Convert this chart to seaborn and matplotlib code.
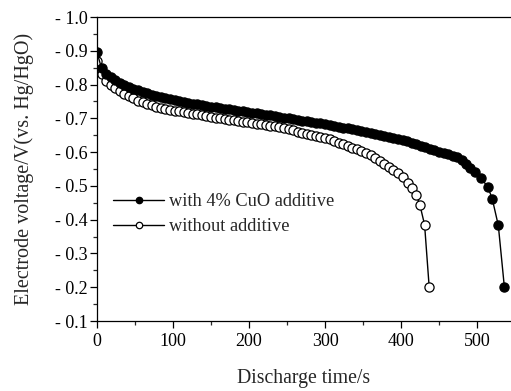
import matplotlib
matplotlib.use("Agg")
import matplotlib.pyplot as plt
from matplotlib.ticker import MultipleLocator, FuncFormatter
import seaborn as sns
import pandas as pd

# Discharge curves: time (s) and electrode potential (V vs. Hg/HgO)
time_cuo = [0, 6, 12, 18, 24, 30, 36, 42, 48, 54, 60, 66, 72, 78, 84, 90, 96,
            102, 108, 114, 120, 126, 132, 138, 144, 150, 156, 162, 168, 174,
            180, 186, 192, 198, 204, 210, 216, 222, 228, 234, 240, 246, 252,
            258, 264, 270, 276, 282, 288, 294, 300, 306, 312, 318, 324, 330,
            336, 342, 348, 354, 360, 366, 372, 378, 384, 390, 396, 402, 408,
            414, 420, 426, 432, 438, 444, 450, 456, 462, 468, 474, 480, 486,
            491, 497, 505, 514, 520, 528, 536]
volt_cuo = [-0.895, -0.848, -0.830, -0.821, -0.813, -0.806, -0.800, -0.794,
            -0.788, -0.783, -0.778, -0.774, -0.770, -0.767, -0.763, -0.760,
            -0.757, -0.754, -0.751, -0.748, -0.745, -0.743, -0.741, -0.739,
            -0.737, -0.735, -0.733, -0.731, -0.729, -0.727, -0.725, -0.723,
            -0.721, -0.719, -0.717, -0.715, -0.713, -0.711, -0.709, -0.707,
            -0.705, -0.702, -0.700, -0.697, -0.695, -0.693, -0.691, -0.689,
            -0.687, -0.685, -0.683, -0.680, -0.678, -0.675, -0.672, -0.670,
            -0.667, -0.665, -0.662, -0.660, -0.657, -0.654, -0.651, -0.648,
            -0.645, -0.642, -0.639, -0.636, -0.632, -0.628, -0.624, -0.619,
            -0.614, -0.609, -0.605, -0.601, -0.597, -0.593, -0.589, -0.585,
            -0.578, -0.566, -0.554, -0.542, -0.523, -0.498, -0.462, -0.383,
            -0.200]

time_plain = [0, 6, 12, 18, 24, 30, 36, 42, 48, 54, 60, 66, 72, 78, 84, 90,
              96, 102, 108, 114, 120, 126, 132, 138, 144, 150, 156, 162, 168,
              174, 180, 186, 192, 198, 204, 210, 216, 222, 228, 234, 240, 246,
              252, 258, 264, 270, 276, 282, 288, 294, 300, 306, 312, 318, 324,
              330, 336, 342, 348, 354, 360, 366, 372, 378, 384, 390, 396, 402,
              409, 415, 420, 425, 431, 437]
volt_plain = [-0.870, -0.830, -0.812, -0.800, -0.790, -0.781, -0.773, -0.766,
              -0.759, -0.752, -0.747, -0.742, -0.738, -0.735, -0.732, -0.729,
              -0.726, -0.723, -0.721, -0.719, -0.717, -0.714, -0.712, -0.709,
              -0.707, -0.705, -0.702, -0.700, -0.698, -0.696, -0.694, -0.692,
              -0.690, -0.688, -0.686, -0.684, -0.682, -0.680, -0.678, -0.676,
              -0.673, -0.670, -0.667, -0.664, -0.661, -0.658, -0.655, -0.652,
              -0.649, -0.646, -0.642, -0.638, -0.633, -0.628, -0.623, -0.618,
              -0.613, -0.608, -0.603, -0.598, -0.592, -0.584, -0.575, -0.565,
              -0.555, -0.547, -0.538, -0.525, -0.509, -0.495, -0.474, -0.442,
              -0.385, -0.202]

label_cuo = "with 4% CuO additive"
label_plain = "without additive"
x_ticks = [0, 100, 200, 300, 400, 500]
y_ticks = [-1.0, -0.9, -0.8, -0.7, -0.6, -0.5, -0.4, -0.3, -0.2, -0.1]

sns.set_style("ticks")
plt.rcParams["font.family"] = ["Liberation Serif", "DejaVu Serif"]
plt.rcParams["axes.linewidth"] = 0.9

df_cuo = pd.DataFrame({"t": time_cuo, "v": volt_cuo})
df_plain = pd.DataFrame({"t": time_plain, "v": volt_plain})

fig = plt.figure(figsize=(5.11, 3.91), dpi=100)
ax = fig.add_axes([97 / 511, 1 - 321 / 391, 1 - 97 / 511, (321 - 17) / 391])

common = dict(ax=ax, x="t", y="v", sort=False, estimator=None, color="black",
              linewidth=1.0, marker="o", markersize=6.6,
              markeredgecolor="black", markeredgewidth=0.9)
sns.lineplot(data=df_plain, markerfacecolor="white", label=label_plain, **common)
sns.lineplot(data=df_cuo, markerfacecolor="black", label=label_cuo, **common)

ax.set_xlim(0, 544.7)
ax.set_ylim(-0.1, -1.0)
ax.set_xticks(x_ticks)
ax.set_yticks(y_ticks)
ax.xaxis.set_minor_locator(MultipleLocator(50))
ax.yaxis.set_minor_locator(MultipleLocator(0.05))
ax.yaxis.set_major_formatter(FuncFormatter(lambda v, p: "- %.1f" % abs(v)))
ax.tick_params(axis="both", which="major", direction="out", length=5,
               width=0.9, labelsize=13, colors="black")
ax.tick_params(axis="both", which="minor", direction="out", length=3,
               width=0.9)
ax.tick_params(axis="x", pad=4)
ax.tick_params(axis="y", pad=2)
ax.spines["right"].set_visible(False)
for s in ("left", "bottom", "top"):
    ax.spines[s].set_color("black")

ax.set_xlabel("Discharge time/s", fontsize=14.2, labelpad=13)
ax.set_ylabel("Electrode voltage/V(vs. Hg/HgO)", fontsize=14.5, labelpad=15)

handles, labels = ax.get_legend_handles_labels()
order = [labels.index(label_cuo), labels.index(label_plain)]
ax.legend([handles[i] for i in order], [labels[i] for i in order],
          loc="upper left", bbox_to_anchor=(0.022, 0.445), frameon=False,
          fontsize=13.2, handlelength=2.75, handletextpad=0.3,
          labelspacing=0.45, borderaxespad=0, markerscale=0.7)

fig.savefig("out.png", dpi=100)
